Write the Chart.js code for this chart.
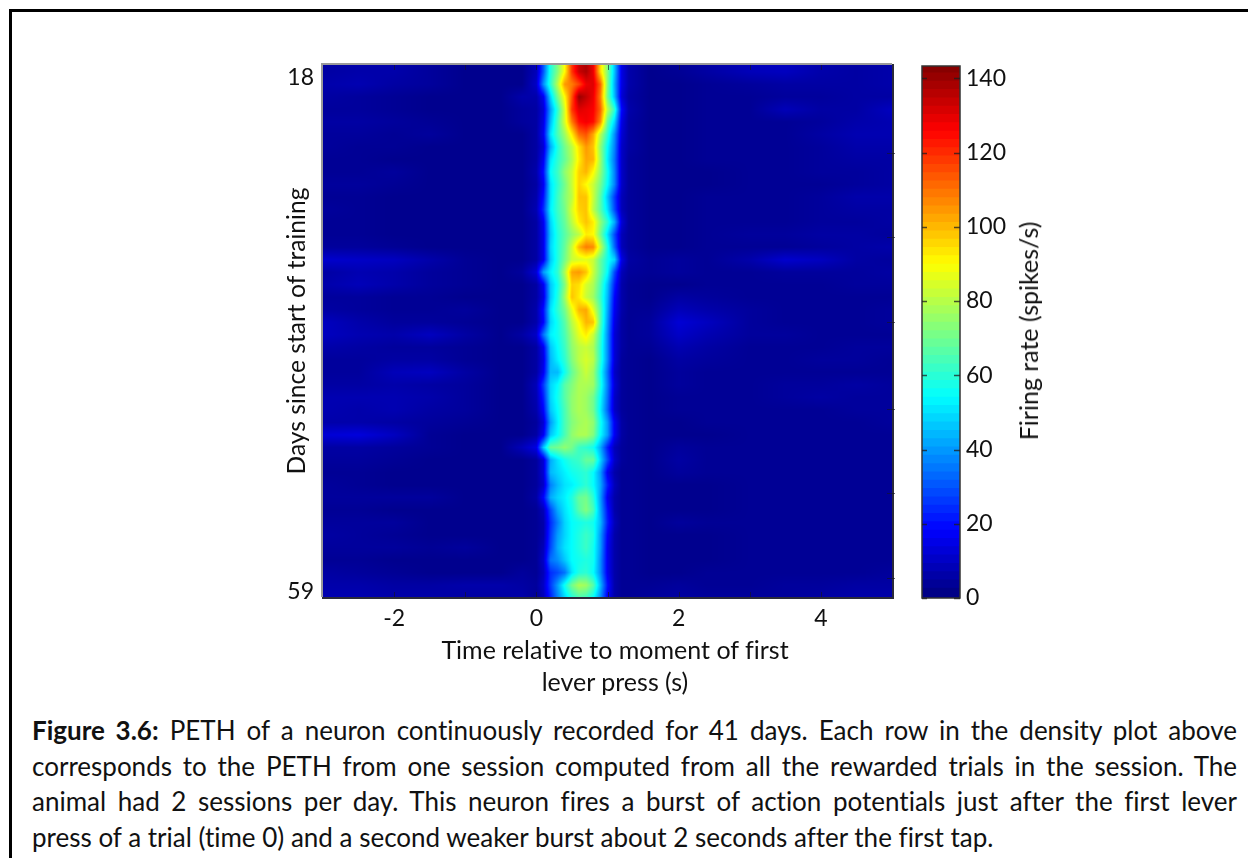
<!DOCTYPE html>
<html>
<head>
<meta charset="utf-8">
<script src="https://cdn.jsdelivr.net/npm/chart.js@4"></script>
<style>
html, body { margin: 0; padding: 0; background: #fff; }
body { width: 1248px; height: 858px; position: relative; overflow: hidden; font-family: Lato, sans-serif; color: #111; font-variant-ligatures: none; }
#frame { position: absolute; left: 9px; top: 9px; width: 1300px; height: 900px; border: 3px solid #000; }
#plot { position: absolute; left: 250px; top: 50px; }
#bar { position: absolute; left: 900px; top: 50px; }
.label { position: absolute; font-size: 25px; white-space: nowrap; }
#xlabel { left: 415px; top: 633px; width: 400px; text-align: center; line-height: 32px; }
#barlabel { left: 1028px; top: 331px; transform: translate(-50%, -50%) rotate(-90deg); }
#caption { position: absolute; left: 32px; top: 713px; width: 1205px; font-size: 26px; line-height: 35.6px; }
#caption div { text-align: justify; text-align-last: justify; white-space: nowrap; }
#caption div.last { text-align-last: left; }
</style>
</head>
<body>
<div id="frame"></div>
<canvas id="plot" width="700" height="600"></canvas>
<canvas id="bar" width="200" height="600"></canvas>
<div class="label" id="xlabel">Time relative to moment of first<br>lever press (s)</div>
<div class="label" id="barlabel">Firing rate (spikes/s)</div>
<div id="caption">
  <div><b>Figure 3.6:</b> PETH of a neuron continuously recorded for 41 days. Each row in the density plot above</div>
  <div>corresponds to the PETH from one session computed from all the rewarded trials in the session. The</div>
  <div>animal had 2 sessions per day. This neuron fires a burst of action potentials just after the first lever</div>
  <div class="last">press of a trial (time 0) and a second weaker burst about 2 seconds after the first tap.</div>
</div>
<script>
// rows of the density plot, top to bottom (position in days)
const rowDays = [17.5,18.5,19.5,20.5,21.5,22.5,23.5,24.5,25.5,26.5,27.5,28.5,29.5,30.5,31.5,32.5,33.5,34.5,35.5,36.5,37.5,38.5,39.5,40.5,41.5,42.5,43.5,44.5,45.5,46.5,47.5,48.5,49.5,50.5,51.5,52.5,53.5,54.5,55.5,56.5,57.5,58.5,59.5];

// columns, in seconds from the first lever press
const earlyTimes = [-3,-2.5,-2,-1.5,-1,-0.5,-0.2];
const burstTimes = [0,0.1,0.2,0.3,0.4,0.5,0.6,0.7,0.8,0.9,1.0,1.1,1.2,1.3];
const lateTimes = [1.6,2,2.4,3,3.5,4,4.5,5];

// firing rate (spikes/s) before the burst
const earlyRates = [
  [5,6,6,4,2,2,2],[6,7,5,4,2,2,2],[5,4,3,2,2,2,6],[4,4,3,2,2,2,4],[5,5,4,3,2,2,4],[4,4,3,4,2,2,2],
  [4,3,3,2,2,2,2],[3,3,2,2,2,2,2],[3,3,4,2,2,2,2],[4,4,3,2,2,2,2],[3,3,2,2,2,2,2],[4,3,2,2,2,2,2],
  [3,3,2,2,2,2,2],[3,3,2,2,2,2,2],[4,4,3,2,2,2,2],[11,10,9,6,3,2,2],[5,7,6,4,3,2,4],[6,8,6,4,3,2,2],
  [4,4,3,3,2,2,2],[5,4,3,3,4,2,2],[9,6,4,4,3,2,2],[9,7,6,9,5,2,5],[6,5,4,4,3,2,2],[4,4,5,5,3,2,2],
  [4,4,8,9,5,2,2],[5,5,6,5,4,2,2],[7,7,7,6,4,2,2],[7,6,7,5,4,2,2],[6,6,5,4,3,2,2],[12,13,9,3,2,2,2],
  [5,5,4,3,2,2,8],[4,4,3,2,2,2,2],[3,3,2,2,2,2,2],[4,3,2,2,2,2,2],[4,4,4,4,2,2,2],[3,3,2,2,2,2,2],
  [4,4,4,2,2,2,2],[5,4,3,2,2,2,2],[4,4,4,3,4,2,2],[3,3,2,2,2,2,2],[5,4,3,2,2,2,4],[6,6,5,5,6,6,5],[7,7,6,6,5,5,6]
];

// firing rate (spikes/s) across the burst
const burstRates = [
  [8,30,58,72,90,118,133,137,128,95,72,45,14,6],
  [10,38,60,80,104,108,116,128,130,112,72,42,14,6],
  [6,16,48,70,90,114,140,134,128,108,70,44,12,5],
  [5,12,40,60,84,118,130,128,126,112,80,60,18,6],
  [5,14,44,64,84,108,124,127,124,106,68,48,14,5],
  [5,16,50,64,76,92,110,114,102,80,60,38,12,5],
  [5,12,42,58,70,80,94,104,98,74,54,36,10,5],
  [5,16,50,60,68,78,92,102,100,76,52,34,10,4],
  [6,20,54,62,74,82,96,100,90,74,56,36,10,4],
  [5,16,50,60,70,82,96,90,82,70,54,36,10,4],
  [6,20,50,62,72,80,98,98,82,66,46,26,8,4],
  [7,24,52,62,70,84,96,98,80,66,50,28,8,4],
  [5,16,48,60,68,80,92,98,92,74,60,42,12,4],
  [5,15,46,58,66,74,80,92,90,70,50,28,8,4],
  [5,15,48,58,68,82,100,108,106,82,58,32,8,4],
  [5,15,46,58,70,82,84,86,82,68,56,48,14,5],
  [12,40,52,60,78,102,104,98,82,68,54,28,8,4],
  [5,16,46,56,72,96,94,84,78,64,46,22,6,3],
  [5,14,46,58,76,98,92,82,76,62,44,18,6,3],
  [6,20,50,60,70,86,100,102,86,66,42,16,6,3],
  [6,18,48,56,66,80,90,100,98,66,40,14,5,3],
  [10,34,52,56,64,76,86,92,82,62,38,12,5,3],
  [5,16,46,54,62,74,80,82,78,60,38,12,5,3],
  [5,14,44,52,60,72,80,84,80,60,38,12,4,3],
  [5,16,44,44,56,68,76,82,76,56,34,10,4,3],
  [8,26,48,54,66,72,78,78,76,58,36,12,4,3],
  [7,22,48,56,66,74,78,76,70,54,34,10,4,3],
  [6,18,46,54,64,74,78,76,70,52,32,10,4,3],
  [4,12,40,52,64,72,76,78,74,56,40,16,5,3],
  [5,16,46,54,64,74,78,78,72,54,40,16,5,3],
  [14,46,68,70,74,70,62,60,56,42,22,8,4,3],
  [4,12,42,50,56,60,62,68,68,48,28,10,4,3],
  [4,12,44,48,52,56,58,60,54,40,16,6,3,3],
  [4,10,36,44,50,52,56,60,54,42,22,8,3,3],
  [5,18,42,48,52,58,68,70,60,40,16,6,3,3],
  [3,8,28,42,50,56,66,72,64,42,20,6,3,3],
  [3,6,24,36,48,54,56,58,56,44,22,8,3,3],
  [3,6,26,40,48,54,58,62,58,40,18,6,3,3],
  [3,8,28,42,50,54,58,62,56,40,16,6,3,3],
  [3,10,34,38,46,54,56,58,56,38,16,6,3,3],
  [3,8,24,28,34,50,58,60,54,38,16,6,3,3],
  [4,10,26,40,56,70,78,76,66,44,20,6,3,3],
  [3,8,22,36,48,58,64,62,54,38,16,6,3,3]
];

// firing rate (spikes/s) after the burst
const lateRates = [
  [2,3,5,8,9,6,5,6],[2,2,3,4,5,5,5,6],[2,2,3,3,4,4,5,5],[2,2,3,3,8,5,5,9],[2,2,3,3,3,4,6,7],[2,2,3,3,3,5,7,7],
  [2,2,3,3,3,4,6,6],[2,2,3,3,3,4,5,5],[2,2,2,3,3,4,4,5],[2,2,2,3,3,3,4,5],[2,2,3,3,3,4,6,6],[2,2,3,3,3,4,5,5],
  [2,2,3,3,3,4,4,5],[2,2,3,4,4,5,5,4],[2,2,3,3,3,4,5,6],[3,4,3,6,11,9,5,4],[3,4,3,3,4,4,4,5],[2,2,3,3,3,3,4,4],
  [2,5,4,3,3,3,3,3],[3,8,6,4,3,3,3,4],[4,12,9,4,3,3,3,4],[4,10,7,4,4,3,3,3],[3,7,5,3,3,3,4,4],[2,5,4,3,3,4,4,3],
  [2,4,3,3,3,3,3,3],[2,4,3,3,4,4,5,4],[2,3,3,3,4,5,4,4],[2,3,3,3,3,3,4,4],[2,2,3,3,3,3,3,4],[2,2,2,3,3,3,3,3],
  [2,4,3,3,3,3,3,3],[2,5,3,3,3,3,3,3],[2,4,3,3,3,3,3,3],[2,2,2,3,3,3,3,3],[2,2,2,3,3,3,3,3],[2,2,2,3,3,3,3,3],
  [2,4,3,3,3,3,3,3],[2,2,2,3,3,3,3,3],[2,2,2,3,3,3,3,3],[2,2,2,3,3,3,3,3],[2,2,3,3,3,3,3,4],[3,4,3,3,4,4,5,5],[4,5,4,4,4,5,6,6]
];

// tick labels
const timeTicks = [-2,0,2,4];
const timeMinorTicks = [-2,-1,0,1,2,3,4];
const dayTicks = [18,59];
const dayMinorTicks = [24.0,30.7,37.5,44.4,51.1,57.9];
const rateTicks = [0,20,40,60,80,100,120,140];
const RATE_MAX = 143.3;

const timeAxis = earlyTimes.concat(burstTimes, lateTimes);
const rateTable = rowDays.map((d, i) => earlyRates[i].concat(burstRates[i], lateRates[i]));

const tickFont = { family: 'Lato', size: 23 };
const titleFont = { family: 'Lato', size: 24.6 };
const inkColor = '#111';

// MATLAB jet
function jet(t) {
    const c = v => Math.round(255 * Math.max(0, Math.min(1, v)));
    return [c(1.5 - Math.abs(4 * t - 3)), c(1.5 - Math.abs(4 * t - 2)), c(1.5 - Math.abs(4 * t - 1))];
}

// index of the knot just below v
function knotBelow(knots, v) {
    let i = 0;
    while (i < knots.length - 2 && knots[i + 1] <= v) i++;
    return i;
}

function rateAt(time, day) {
    const i = knotBelow(timeAxis, time);
    const j = knotBelow(rowDays, day);
    const a = Math.max(0, Math.min(1, (time - timeAxis[i]) / (timeAxis[i + 1] - timeAxis[i])));
    const b = Math.max(0, Math.min(1, (day - rowDays[j]) / (rowDays[j + 1] - rowDays[j])));
    const top = rateTable[j][i] * (1 - a) + rateTable[j][i + 1] * a;
    const bottom = rateTable[j + 1][i] * (1 - a) + rateTable[j + 1][i + 1] * a;
    return top * (1 - b) + bottom * b;
}

// stops tick labels from pushing the plot area in
function noLabelMargins(scale) {
    scale.paddingTop = 0;
    scale.paddingBottom = 0;
    scale.paddingLeft = 0;
    scale.paddingRight = 0;
}

// paints the density plot pixel by pixel, asking the chart's scales where each pixel falls
const densityPlugin = {
    id: 'density',
    beforeDatasetsDraw(chart) {
        const { ctx, chartArea: area, scales } = chart;
        const w = Math.round(area.right - area.left);
        const h = Math.round(area.bottom - area.top);
        const image = ctx.createImageData(w, h);
        for (let py = 0; py < h; py++) {
            const day = scales.y.getValueForPixel(area.top + py + 0.5);
            for (let px = 0; px < w; px++) {
                const time = scales.x.getValueForPixel(area.left + px + 0.5);
                const rgb = jet(rateAt(time, day) / RATE_MAX);
                const k = (py * w + px) * 4;
                image.data[k] = rgb[0];
                image.data[k + 1] = rgb[1];
                image.data[k + 2] = rgb[2];
                image.data[k + 3] = 255;
            }
        }
        ctx.putImageData(image, Math.round(area.left), Math.round(area.top));
    },
    afterDraw(chart) {
        const { ctx, chartArea: area, scales } = chart;
        ctx.save();
        // axes box, grey on top and left as in the picture
        ctx.lineWidth = 2;
        ctx.strokeStyle = '#9a9a9a';
        ctx.beginPath();
        ctx.moveTo(area.left - 1, area.bottom);
        ctx.lineTo(area.left - 1, area.top - 1);
        ctx.lineTo(area.right, area.top - 1);
        ctx.stroke();
        ctx.strokeStyle = '#2a2a3a';
        ctx.beginPath();
        ctx.moveTo(area.right + 1, area.top - 1);
        ctx.lineTo(area.right + 1, area.bottom + 1);
        ctx.lineTo(area.left - 1, area.bottom + 1);
        ctx.stroke();
        // inner ticks
        ctx.lineWidth = 1;
        ctx.strokeStyle = 'rgba(20,20,40,0.65)';
        ctx.beginPath();
        timeMinorTicks.forEach(t => {
            const x = Math.round(scales.x.getPixelForValue(t)) + 0.5;
            ctx.moveTo(x, area.top);
            ctx.lineTo(x, area.top + 5);
            ctx.moveTo(x, area.bottom);
            ctx.lineTo(x, area.bottom - 5);
        });
        dayMinorTicks.forEach(d => {
            const y = Math.round(scales.y.getPixelForValue(d)) + 0.5;
            ctx.moveTo(area.right + 3, y);
            ctx.lineTo(area.right - 5, y);
        });
        ctx.stroke();
        ctx.restore();
    }
};

new Chart(document.getElementById('plot'), {
    type: 'scatter',
    plugins: [densityPlugin],
    data: {
        datasets: [{
            label: 'Firing rate',
            data: rowDays.map((d, j) => ({ x: timeAxis[0], y: d, v: rateTable[j][0] })),
            pointRadius: 0
        }]
    },
    options: {
        responsive: false,
        animation: false,
        layout: { padding: { top: 15, right: 58, left: 0, bottom: 0 } },
        plugins: { legend: { display: false }, tooltip: { enabled: false } },
        scales: {
            x: {
                type: 'linear', min: -3, max: 5,
                afterBuildTicks: scale => { scale.ticks = timeTicks.map(v => ({ value: v })); },
                afterFit: scale => { scale.height = 53; noLabelMargins(scale); },
                grid: { display: false, drawTicks: false },
                border: { display: false },
                ticks: { font: tickFont, color: inkColor, padding: 8, maxRotation: 0 }
            },
            y: {
                type: 'linear', min: 16.96, max: 59.44, reverse: true,
                afterBuildTicks: scale => { scale.ticks = dayTicks.map(v => ({ value: v })); },
                afterFit: scale => { scale.width = 73; noLabelMargins(scale); },
                grid: { display: false, drawTicks: false },
                border: { display: false },
                ticks: { font: tickFont, color: inkColor, padding: 9 },
                title: {
                    display: true,
                    text: 'Days since start of training',
                    font: titleFont,
                    color: inkColor,
                    padding: { top: 32, bottom: 0 }
                }
            }
        }
    }
});

// colour bar: 64 floating bars, one per colormap level
const LEVELS = 64;
const levelBars = [];
for (let i = 0; i < LEVELS; i++) {
    const rgb = jet((i + 0.5) / LEVELS);
    levelBars.push({
        data: [[RATE_MAX * i / LEVELS, RATE_MAX * (i + 1) / LEVELS + (i < LEVELS - 1 ? 0.4 : 0)]],
        backgroundColor: `rgb(${rgb[0]},${rgb[1]},${rgb[2]})`,
        borderWidth: 0,
        barPercentage: 1,
        categoryPercentage: 1,
        grouped: false
    });
}

const barTicksPlugin = {
    id: 'barTicks',
    afterDraw(chart) {
        const { ctx, chartArea: area, scales } = chart;
        ctx.save();
        ctx.lineWidth = 1.5;
        ctx.strokeStyle = '#333';
        ctx.strokeRect(area.left, area.top, area.right - area.left, area.bottom - area.top);
        ctx.strokeStyle = 'rgba(30,30,30,0.75)';
        ctx.beginPath();
        rateTicks.forEach(v => {
            const y = Math.round(scales.y.getPixelForValue(v)) + 0.5;
            ctx.moveTo(area.left, y);
            ctx.lineTo(area.left + 5, y);
            ctx.moveTo(area.right, y);
            ctx.lineTo(area.right - 6, y);
        });
        ctx.stroke();
        ctx.restore();
    }
};

new Chart(document.getElementById('bar'), {
    type: 'bar',
    plugins: [barTicksPlugin],
    data: { labels: ['rate'], datasets: levelBars },
    options: {
        responsive: false,
        animation: false,
        layout: { padding: { top: 16, left: 22, right: 0, bottom: 52 } },
        plugins: { legend: { display: false }, tooltip: { enabled: false } },
        scales: {
            x: { display: false },
            y: {
                position: 'right', min: 0, max: RATE_MAX,
                afterBuildTicks: scale => { scale.ticks = rateTicks.map(v => ({ value: v })); },
                afterFit: scale => { scale.width = 140; noLabelMargins(scale); },
                grid: { display: false, drawTicks: false },
                border: { display: false },
                ticks: { font: tickFont, color: inkColor, padding: 6, crossAlign: 'near' }
            }
        }
    }
});
</script>
</body>
</html>
